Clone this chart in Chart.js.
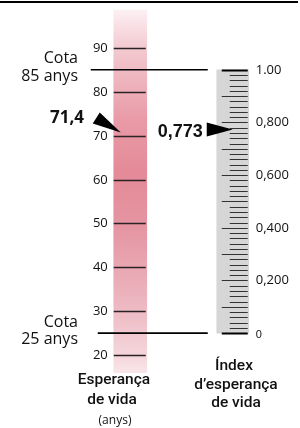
<!DOCTYPE html>
<html>
<head>
<meta charset="utf-8">
<script src="https://cdn.jsdelivr.net/npm/chart.js@4.4.0/dist/chart.umd.min.js"></script>
<style>
  html, body { margin: 0; padding: 0; background: #fff; }
  #wrap { position: relative; width: 300px; height: 428px; }
</style>
</head>
<body>
<div id="wrap"><canvas id="lifeChart"></canvas></div>
<script>
// scale values
const categories = ["Esperança de vida", "Índex d'esperança de vida"];
const ageTicks = [20, 30, 40, 50, 60, 70, 80, 90];
const ageRange = [16, 98.6];
const indexRange = [0, 1];
const indexLabelTicks = [0, 0.2, 0.4, 0.6, 0.8, 1];
const indexTickLabels = ["0", "0,200", "0,400", "0,600", "0,800", "1.00"];
const indexStep = 0.02;
const cotaYears = [25, 85];
const cotaLabels = [["Cota", "25 anys"], ["Cota", "85 anys"]];
const lifeExpectancy = 71.4;
const lifeIndex = 0.773;
const lifeExpectancyLabel = "71,4";
const lifeIndexLabel = "0,773";

const ageMin = 15;
const ageMax = 100;
// index 0 sits on the 25-year cut, index 1 on the 85-year cut
const toIndex = (age) => (age - cotaYears[0]) / (cotaYears[1] - cotaYears[0]);

const pinkGradient = (context) => {
  const { chart } = context;
  const area = chart.chartArea;
  if (!area) return "#e48a98";
  const y = chart.scales.y;
  const top = y.getPixelForValue(ageRange[1]);
  const bottom = y.getPixelForValue(ageRange[0]);
  const g = chart.ctx.createLinearGradient(0, top, 0, bottom);
  g.addColorStop(0, "#fcf0f3");
  g.addColorStop(0.1, "#f3cbd2");
  g.addColorStop(0.3, "#e99ba7");
  g.addColorStop(0.45, "#e48a98");
  g.addColorStop(0.6, "#e595a2");
  g.addColorStop(0.8, "#ecb5bf");
  g.addColorStop(0.95, "#f4d5db");
  g.addColorStop(1, "#f9e6ea");
  return g;
};

const line = (ctx, x1, y1, x2, y2, width, color) => {
  ctx.beginPath();
  ctx.lineWidth = width;
  ctx.strokeStyle = color;
  ctx.moveTo(x1, y1);
  ctx.lineTo(x2, y2);
  ctx.stroke();
};

const text = (ctx, str, x, y, font, align) => {
  ctx.font = font;
  ctx.textAlign = align;
  ctx.textBaseline = "middle";
  ctx.fillStyle = "#111";
  ctx.fillText(str, x, y);
};

const overlay = {
  id: "overlay",
  afterDatasetsDraw(chart) {
    const { ctx, scales } = chart;
    const yAge = scales.y;
    const yIdx = scales.yIdx;
    const pink = chart.getDatasetMeta(0).data[0];
    const gray = chart.getDatasetMeta(1).data[1];
    const pinkLeft = pink.x - pink.width / 2;
    const pinkRight = pink.x + pink.width / 2;
    const grayLeft = gray.x - gray.width / 2;
    const grayRight = gray.x + gray.width / 2;

    ctx.save();

    // frame line on top
    line(ctx, 0, 2, 298, 2, 2, "#000");

    // age ticks inside the pink bar
    ageTicks.forEach((v) => {
      const py = Math.round(yAge.getPixelForValue(v)) + 0.5;
      line(ctx, pinkLeft, py, pinkRight - 1, py, 1.3, "#2a2224");
      text(ctx, String(v), pinkLeft - 6, py, "13px 'Open Sans'", "right");
    });

    // cut-off lines
    cotaYears.forEach((v, i) => {
      const py = yAge.getPixelForValue(v);
      const start = i === 0 ? pinkLeft - 16 : pinkLeft - 23;
      line(ctx, start, py, grayLeft - 9, py, 1.6, "#000");
      text(ctx, cotaLabels[i][0], 78, py - 11, "16px 'Open Sans'", "right");
      text(ctx, cotaLabels[i][1], 78, py + 6.5, "16px 'Open Sans'", "right");
    });

    // index ticks
    const steps = Math.round((indexRange[1] - indexRange[0]) / indexStep);
    for (let i = 0; i <= steps; i++) {
      const v = indexRange[0] + i * indexStep;
      const py = Math.round(yIdx.getPixelForValue(v)) + 0.5;
      const major = i % 5 === 0;
      const edge = i === 0 || i === steps;
      const x1 = major ? grayLeft + 5 : grayLeft + 13;
      line(ctx, x1, py, grayRight - 1, py, edge ? 2 : 1, edge ? "#000" : "#333");
    }
    indexLabelTicks.forEach((v, i) => {
      const py = yIdx.getPixelForValue(v);
      const small = i === 0;
      text(ctx, indexTickLabels[i], grayRight + 7, small ? py + 2 : py,
        small ? "11px 'Liberation Sans'" : "13px 'Open Sans'", "left");
    });

    // pointer for life expectancy (years)
    const pa = yAge.getPixelForValue(lifeExpectancy);
    ctx.fillStyle = "#000";
    ctx.beginPath();
    ctx.moveTo(pinkLeft + 7, pa + 3);
    ctx.lineTo(pinkLeft - 14, pa - 17);
    ctx.lineTo(pinkLeft - 21, pa - 6);
    ctx.closePath();
    ctx.fill();
    text(ctx, lifeExpectancyLabel, 84, pa - 11, "bold 17px 'Open Sans'", "right");

    // pointer for the index
    const pi = yIdx.getPixelForValue(lifeIndex);
    ctx.fillStyle = "#000";
    ctx.beginPath();
    ctx.moveTo(grayLeft + 16, pi);
    ctx.lineTo(grayLeft - 10, pi - 7);
    ctx.lineTo(grayLeft - 10, pi + 7);
    ctx.closePath();
    ctx.fill();
    text(ctx, lifeIndexLabel, grayLeft - 14, pi + 2, "bold 18px 'Liberation Sans'", "right");

    // axis titles
    const bottomFont = "500 15.5px Roboto";
    text(ctx, "Esperança", 114, 380, bottomFont, "center");
    text(ctx, "de vida", 112, 400, bottomFont, "center");
    text(ctx, "(anys)", 115, 421, "12px 'Open Sans'", "center");
    text(ctx, "Índex", 234, 366, bottomFont, "center");
    text(ctx, "d\u2019esperança", 236, 385, bottomFont, "center");
    text(ctx, "de vida", 236, 403, bottomFont, "center");

    ctx.restore();
  },
};

new Chart(document.getElementById("lifeChart"), {
  type: "bar",
  data: {
    labels: categories,
    datasets: [
      {
        label: categories[0],
        data: [ageRange, null],
        yAxisID: "y",
        backgroundColor: pinkGradient,
        barThickness: 33,
        grouped: false,
        borderWidth: 0,
      },
      {
        label: categories[1],
        data: [null, indexRange],
        yAxisID: "yIdx",
        backgroundColor: "#d6d6d6",
        barThickness: 32,
        grouped: false,
        borderWidth: 0,
      },
    ],
  },
  options: {
    responsive: true,
    maintainAspectRatio: false,
    animation: false,
    layout: { padding: { left: 79, right: 16, top: 4, bottom: 51 } },
    plugins: {
      legend: { display: false },
      tooltip: { enabled: false },
      title: { display: false },
    },
    scales: {
      x: { type: "category", display: false },
      y: { type: "linear", display: false, min: ageMin, max: ageMax },
      yIdx: { type: "linear", display: false, min: toIndex(ageMin), max: toIndex(ageMax) },
    },
  },
  plugins: [overlay],
});
</script>
</body>
</html>
